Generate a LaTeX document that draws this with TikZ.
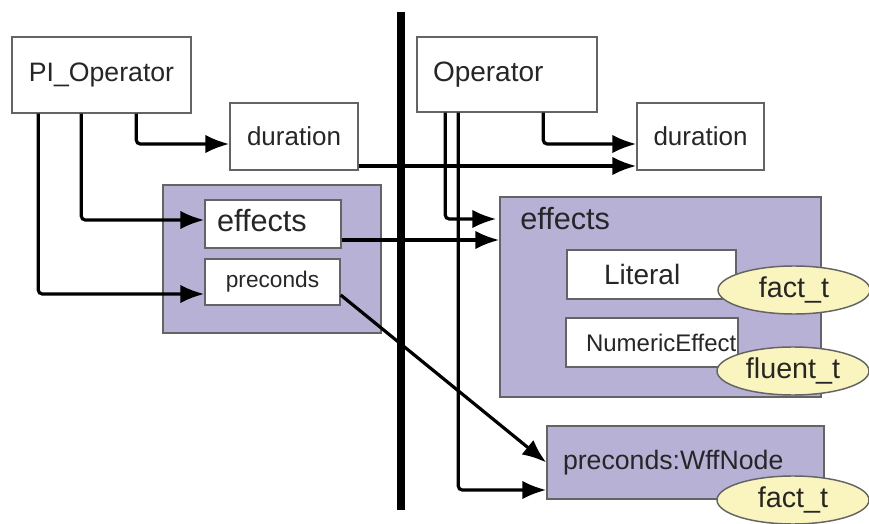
\documentclass[tikz,border=0pt]{standalone}
\usepackage{fontspec}
\setmainfont{Liberation Sans}
\usetikzlibrary{arrows.meta,calc,shapes.geometric}

\definecolor{grpfill}{RGB}{184,177,214}
\definecolor{tagfill}{RGB}{250,245,190}
\definecolor{edgegray}{RGB}{100,100,100}

\begin{document}
\begin{tikzpicture}[x=0.75pt, y=-0.75pt,
    box/.style={rectangle, draw=edgegray, line width=1.1pt, fill=white, text=black!85, inner sep=0pt},
    grp/.style={rectangle, draw=edgegray, line width=1.1pt, fill=grpfill, inner sep=0pt},
    tag/.style={ellipse, draw=edgegray, line width=1.1pt, fill=tagfill, text=black!85, inner sep=0pt, minimum width=114pt, minimum height=36pt},
    link/.style={-{Latex[length=18pt,width=14pt]}, line width=2.4pt, rounded corners=3pt},
    fs/.style={font=\fontsize{#1}{#1}\selectfont}]
	\useasboundingbox (0,0) rectangle (869,524);

	% divider between the two sides
	\coordinate (divtop) at (401,12);
	\coordinate (divbot) at (401,510);
	\draw[line width=6pt] (divtop) -- (divbot);

	% left side
	\node[box, fs=20, minimum width=134.25pt, minimum height=57pt] (pi) at (101.5,75) {PI\_Operator};
	\node[box, fs=19.5, minimum width=96pt, minimum height=50.25pt] (durL) at (294,136.5) {duration};
	\node[grp, minimum width=163.5pt, minimum height=111pt] (grpL) at (272,259) {};
	\node[box, fs=23, text width=84pt, align=left, inner xsep=9pt, minimum height=36pt] (effL) at (273,224) {effects\vphantom{p}};
	\node[box, fs=17, minimum width=101.25pt, minimum height=34.5pt] (preL) at (272.5,282) {preconds};

	% right side
	\node[box, fs=21, text width=111pt, align=left, inner xsep=12pt, minimum height=56.25pt] (op) at (507,74.5) {Operator};
	\node[box, fs=19.5, minimum width=95.25pt, minimum height=50.25pt] (durR) at (700.5,136.5) {duration};
	\node[grp, minimum width=240.75pt, minimum height=150pt] (effR) at (660.5,297) {};
	\node[fs=23, text=black!85, anchor=west, inner sep=0pt] (effRl) at (520,219) {effects};
	\node[box, fs=21, text width=71.25pt, align=left, inner xsep=27.75pt, minimum height=36.75pt] (lit) at (651.5,274.5) {Literal};
	\node[box, fs=18, text width=99pt, align=left, inner xsep=15pt, minimum height=36.75pt] (num) at (652,342.5) {NumericEffect};
	\node[tag, fs=21.5] (tag1) at (794,290) {fact\_t};
	\node[tag, fs=21.5] (tag2) at (793,371) {fluent\_t};
	\node[grp, fs=20, text=black!85, text width=183.75pt, align=left, inner xsep=12pt, minimum height=54.75pt] (wff) at (685.5,462.5) {preconds:WffNode};
	\node[tag, fs=21.5] (tag3) at (793,500) {fact\_t};

	% links
	\draw[link] ($(pi.south west)+(125,0)$) |- ($(durL.west)+(0,7.5)$);
	\draw[link] ($(pi.south west)+(70,0)$) |- ($(effL.west)+(0,-4)$);
	\draw[link] ($(pi.south west)+(27,0)$) |- ($(preL.west)+(0,12)$);
	\draw[link] ($(durL.east)+(0,29.5)$) -- ($(durR.west)+(0,29.5)$);
	\coordinate (effout) at ($(effL.east)+(0,16)$);
	\draw[link] (effout) -- (effout -| effR.west);
	\draw[link] ($(op.south west)+(127,0)$) |- ($(durR.west)+(0,7.5)$);
	\draw[link] ($(op.south west)+(29,0)$) |- ($(effR.west)+(-3,-78)$);
	\draw[link] ($(op.south west)+(42,0)$) |- ($(wff.west)+(0,27.5)$);
	\draw[link] ($(preL.east)+(0,13)$) -- (wff.west);
\end{tikzpicture}
\end{document}
